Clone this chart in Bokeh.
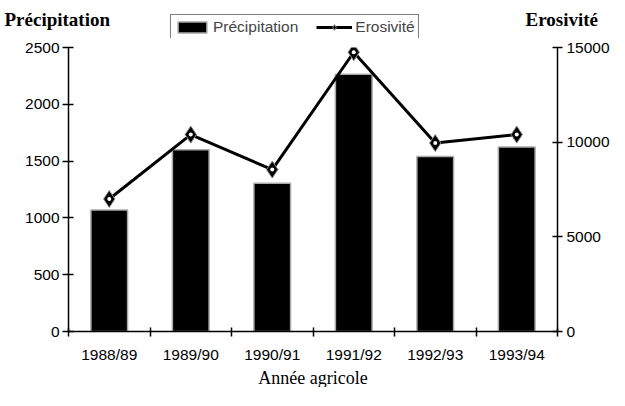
from bokeh.plotting import figure
from bokeh.models import (Range1d, LinearAxis, FixedTicker, Label, Legend, LegendItem, Title)
from bokeh.embed import file_html
from bokeh.resources import INLINE

categories = ["1988/89", "1989/90", "1990/91", "1991/92", "1992/93", "1993/94"]
precipitation = [1070, 1600, 1305, 2265, 1540, 1625]
erosivite = [7000, 10400, 8550, 14750, 9950, 10400]
left_ticks = [0, 500, 1000, 1500, 2000, 2500]
right_ticks = [0, 5000, 10000, 15000]

SANS = "Liberation Sans"
SERIF = "Liberation Serif"
W = 609
HEAD_H = 38

xc = [i + 0.5 for i in range(len(categories))]

# ---- main chart ----
p = figure(frame_width=489, frame_height=284, output_backend="svg", toolbar_location=None,
           x_range=Range1d(0, len(categories)), y_range=Range1d(0, 2500),
           min_border_left=68, min_border_right=52, min_border_top=9, min_border_bottom=20)
p.extra_y_ranges = {"ero": Range1d(0, 15000)}
p.outline_line_color = None
p.xgrid.visible = False
p.ygrid.visible = False

xa = p.xaxis[0]
xa.ticker = FixedTicker(ticks=xc, minor_ticks=list(range(len(categories) + 1)))
xa.major_label_overrides = {x: c for x, c in zip(xc, categories)}
xa.major_tick_in = 0
xa.major_tick_out = 0
xa.minor_tick_in = 4
xa.minor_tick_out = 5
xa.minor_tick_line_color = "black"
xa.minor_tick_line_width = 1.5
xa.axis_line_color = "black"
xa.axis_line_width = 1.5
xa.major_label_standoff = 9
xa.major_label_text_font = SANS
xa.major_label_text_font_size = "15.5px"
xa.major_label_text_color = "black"

ya = p.yaxis[0]
ya.ticker = FixedTicker(ticks=left_ticks, minor_ticks=[])
ya.major_tick_in = 5
ya.major_tick_out = 6
ya.major_tick_line_color = "black"
ya.major_tick_line_width = 1.5
ya.axis_line_color = "black"
ya.axis_line_width = 1.5
ya.major_label_standoff = 3
ya.major_label_text_font = SANS
ya.major_label_text_font_size = "15.5px"
ya.major_label_text_color = "black"

ra = LinearAxis(y_range_name="ero")
ra.ticker = FixedTicker(ticks=right_ticks, minor_ticks=[])
ra.major_tick_in = 5
ra.major_tick_out = 5
ra.major_tick_line_color = "black"
ra.major_tick_line_width = 1.5
ra.axis_line_color = "black"
ra.axis_line_width = 1.5
ra.major_label_standoff = 4
ra.major_label_text_font = SANS
ra.major_label_text_font_size = "15.5px"
ra.major_label_text_color = "black"
p.add_layout(ra, "right")

p.add_layout(Title(text="Année agricole", align="center", text_font=SERIF,
                   text_font_size="18px", text_font_style="normal",
                   text_color="black", standoff=0), "below")

bar_style = dict(fill_color="black", line_color="#aaaaaa", line_width=1.5)
line_style = dict(line_color="black", line_width=3)
mark_style = dict(marker="diamond", size=17, fill_color="black", line_color="#888888", line_width=1)

p.vbar(x=xc, top=precipitation, width=0.45, **bar_style)
p.line(xc, erosivite, y_range_name="ero", **line_style)
p.scatter(xc, erosivite, y_range_name="ero", **mark_style)
p.scatter(xc, erosivite, y_range_name="ero", marker="circle", size=4,
          fill_color="white", line_color=None)

# ---- header strip: axis titles and legend ----
head = figure(width=W, height=HEAD_H, output_backend="svg", toolbar_location=None,
              x_range=Range1d(0, W), y_range=Range1d(0, HEAD_H),
              x_axis_location=None, y_axis_location=None,
              min_border=0, min_border_left=0, min_border_right=0,
              min_border_top=0, min_border_bottom=0)
head.grid.visible = False
head.outline_line_color = None

lb = head.vbar(x=[-100], top=[0], width=1, **bar_style)
ll = head.line(x=[-100, -90], y=[0, 0], **line_style)
lm = head.scatter(x=[-100], y=[0], **mark_style)

legend = Legend(items=[LegendItem(label="Précipitation", renderers=[lb]),
                       LegendItem(label="Erosivité", renderers=[ll, lm])],
                orientation="horizontal", location=(170, -2),
                label_text_font=SANS, label_text_font_size="15.5px",
                glyph_width=36, glyph_height=14, spacing=18, padding=3,
                label_standoff=3, margin=0,
                border_line_color="black", border_line_width=1.2,
                background_fill_color="white", background_fill_alpha=1)
head.add_layout(legend, "center")

head.add_layout(Label(x=4, y=HEAD_H - 19, text="Précipitation", text_font=SERIF,
                      text_font_size="19px", text_font_style="bold", text_color="black",
                      text_baseline="alphabetic"))
head.add_layout(Label(x=525, y=HEAD_H - 19, text="Erosivité", text_font=SERIF,
                      text_font_size="19px", text_font_style="bold", text_color="black",
                      text_baseline="alphabetic"))

open("out.html", "w").write(file_html([head, p], INLINE))
